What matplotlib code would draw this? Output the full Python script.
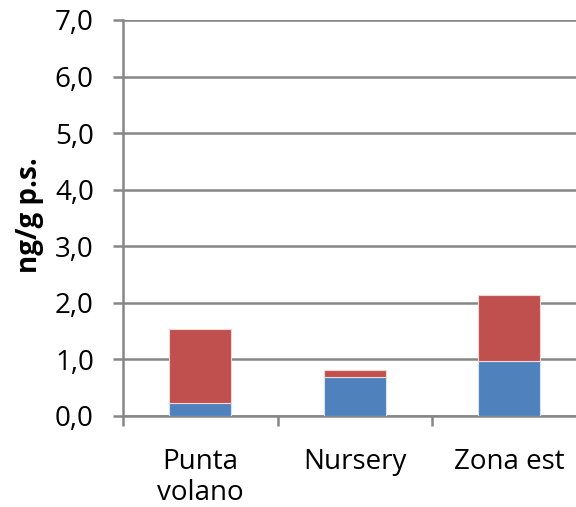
import matplotlib
matplotlib.use("Agg")
import matplotlib.pyplot as plt
import numpy as np

categories = ["Punta\nvolano", "Nursery", "Zona est"]
blue_vals = [0.22, 0.69, 0.96]
red_vals = [1.32, 0.12, 1.18]
yticks = [0, 1, 2, 3, 4, 5, 6, 7]
ytick_labels = ["0,0", "1,0", "2,0", "3,0", "4,0", "5,0", "6,0", "7,0"]
ylabel = "ng/g p.s."

plt.rcParams['font.family'] = ['Open Sans', 'DejaVu Sans']

W, H = 576, 507
fig = plt.figure(figsize=(W / 100, H / 100), dpi=100)
left, right, top, bottom = 123, 586.5, 20, 415.7
ax = fig.add_axes([left / W, 1 - bottom / H, (right - left) / W, (bottom - top) / H])
ax.set_facecolor('none')

x = np.arange(len(categories))
ax.bar(x, blue_vals, width=0.40, color='#4F81BD', edgecolor='#d8e2f0', linewidth=0.8, zorder=3)
ax.bar(x, red_vals, bottom=blue_vals, width=0.40, color='#C0504D', edgecolor='#f0d8d8', linewidth=0.8, zorder=3)

ax.set_xlim(-0.5, len(categories) - 0.5)
ax.set_ylim(0, 7)
ax.set_yticks(yticks)
ax.set_yticklabels(ytick_labels, fontsize=20)
ax.yaxis.grid(True, color='#868686', linewidth=1.8, zorder=0)
ax.set_axisbelow(True)

ax.set_xticks(x)
ax.set_xticklabels(categories, fontsize=20, linespacing=1.15, va='top')
ax.set_xticks(np.arange(len(categories) + 1) - 0.5, minor=True)
ax.tick_params(axis='x', which='major', length=0, pad=23)
ax.tick_params(axis='x', which='minor', length=7, width=1.8, color='#868686')
ax.tick_params(axis='y', length=7, width=1.8, color='#868686', pad=14)

for s in ['top', 'right']:
    ax.spines[s].set_visible(False)
for s in ['left', 'bottom']:
    ax.spines[s].set_color('#868686')
    ax.spines[s].set_linewidth(1.8)

fig.text(30 / W, 1 - 215 / H, ylabel, rotation=90, fontsize=20, fontweight='bold',
         ha='center', va='center')

fig.savefig('out.png', dpi=100)
